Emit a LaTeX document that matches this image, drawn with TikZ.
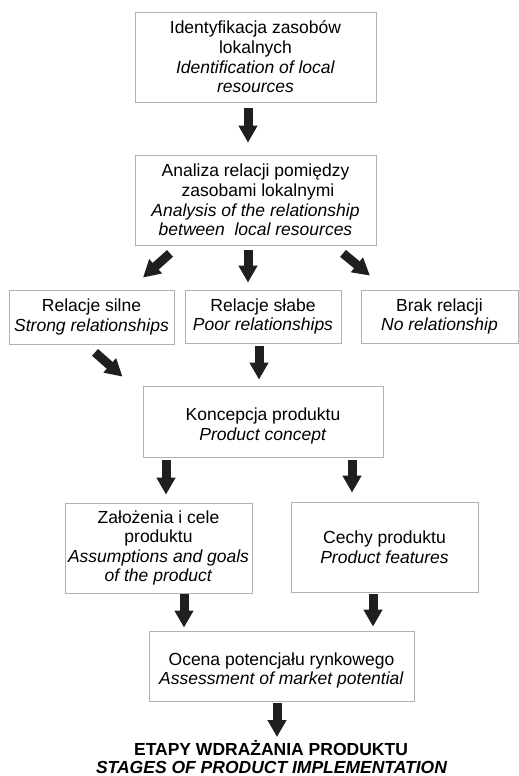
\documentclass[tikz,border=0pt]{standalone}
\usepackage{fontspec}
\setmainfont{Liberation Sans}
\usetikzlibrary{arrows.meta,calc}
\newcommand{\lowtext}[2]{\raisebox{-#1}[\height][\depth]{\begin{tabular}{@{}c@{}}#2\end{tabular}}}
\begin{document}
\begin{tikzpicture}[x=1pt,y=-1pt,
  box/.style={draw=gray!60, line width=0.8pt, align=center, inner sep=0pt,
    font=\fontsize{17.5}{19.6}\selectfont},
  blk/.style={line width=9pt, draw=black!88,
    -{Triangle[width=18pt,length=17pt]}},
  ttl/.style={anchor=base, inner sep=0pt, font=\bfseries\fontsize{17.5}{19.6}\selectfont}]
\useasboundingbox (0,0) rectangle (519,776);

\node[box, minimum width=241pt, minimum height=90pt] (b1) at (255.5,57)
  {Identyfikacja zasobów\\lokalnych\\\textit{Identification of local}\\\textit{resources}};
\node[box, minimum width=241pt, minimum height=90pt] (b2) at (255.5,200)
  {Analiza relacji pomiędzy\\\ zasobami lokalnymi\\\textit{Analysis of the relationship}\\\textit{between\ \ local resources}};
\node[box, minimum width=165pt, minimum height=54pt] (b3) at (91.5,317)
  {Relacje silne\\\textit{Strong relationships}};
\node[box, minimum width=156pt, minimum height=53pt] (b4) at (263,316.5)
  {Relacje słabe\\\textit{Poor relationships}};
\node[box, minimum width=157pt, minimum height=53pt] (b5) at (439.5,316.5)
  {Brak relacji\\\textit{No relationship}};
\node[box, minimum width=240pt, minimum height=71pt] (b6) at (263,421.5)
  {\lowtext{5pt}{Koncepcja produktu\\\textit{Product concept}}};
\node[box, minimum width=187pt, minimum height=90pt] (b7) at (158.5,548)
  {Założenia i cele\\produktu\\\textit{Assumptions and goals}\\\textit{of the product}};
\node[box, minimum width=187pt, minimum height=90pt] (b8) at (384.5,547)
  {Cechy produktu\\\textit{Product features}};
\node[box, minimum width=265pt, minimum height=70pt] (b9) at (281.5,666)
  {\lowtext{5pt}{Ocena potencjału rynkowego\\\textit{Assessment of market potential}}};
\node[ttl] (t1) at (271,755) {ETAPY WDRAŻANIA PRODUKTU};
\node[ttl, font=\bfseries\itshape\fontsize{17.5}{19.6}\selectfont] (t2) at (271.5,773) {STAGES OF PRODUCT IMPLEMENTATION};

\draw[blk] ($(b1.south)+(-7.5,6)$) -- ($(b2.north)+(-7.5,-12)$);
\draw[blk] ($(b2.south)+(-85.5,8)$) -- ($(b3.north)+(51.5,-12)$);
\draw[blk] ($(b2.south)+(-7.5,5)$) -- ($(b4.north)+(-15,-7)$);
\draw[blk] ($(b2.south)+(87.5,8)$) -- ($(b5.north)+(-69.5,-14)$);
\draw[blk] ($(b3.south)+(3.5,8)$) -- ($(b6.north)+(-140.5,-9)$);
\draw[blk] ($(b4.south)+(-4,3)$) -- ($(b6.north)+(-4,-6)$);
\draw[blk] ($(b6.south)+(-97,3)$) -- ($(b7.north)+(7.5,-8)$);
\draw[blk] ($(b6.south)+(89,3)$) -- ($(b8.north)+(-32.5,-9)$);
\draw[blk] ($(b7.south)+(25.5,1)$) -- ($(b9.north)+(-97.5,-3)$);
\draw[blk] ($(b8.south)+(-11.5,2)$) -- ($(b9.north)+(91.5,-4)$);
\draw[blk] ($(b9.south)+(-4.5,2)$) -- ($(t1.base)+(6,-18)$);
\end{tikzpicture}
\end{document}
